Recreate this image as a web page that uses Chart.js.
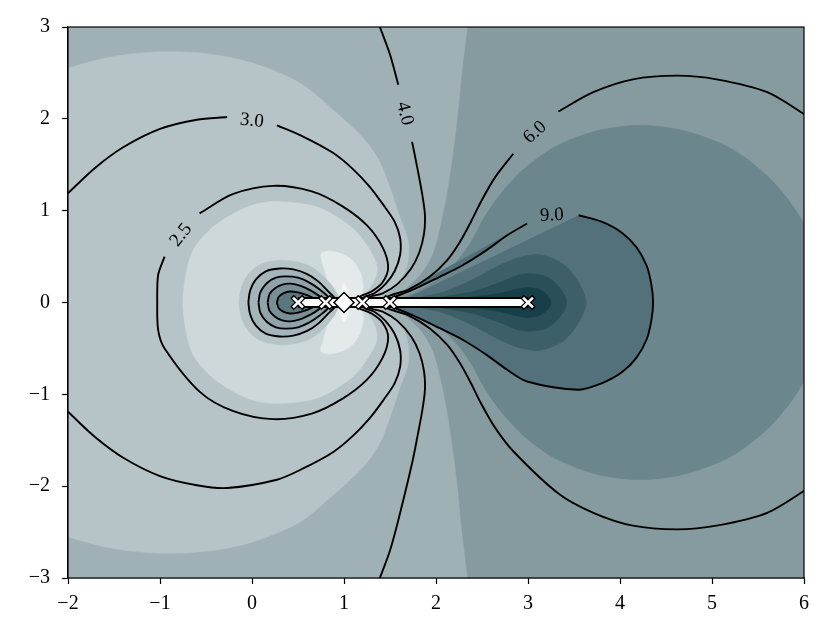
<!DOCTYPE html>
<html>
<head>
<meta charset="utf-8">
<script src="https://cdn.jsdelivr.net/npm/chart.js@4.4.1/dist/chart.umd.min.js"></script>
<style>
  html, body { margin: 0; padding: 0; background: #fff; }
  canvas { display: block; }
</style>
</head>
<body>
<canvas id="chart" width="829" height="638"></canvas>
<script>
// The picture is mirror-symmetric about y = 0, so every curve below is the
// upper half only (y >= 0); the lower half is the same list with y -> -y.
// null = gap left in the line for an inline label.

// contour lines
const line25 = [[-1.03,0],[-1.02,0.30],[-0.95,0.50],null,[-0.57,0.97],[-0.21,1.18],[0.23,1.27],[0.65,1.21],[0.98,1.05],[1.25,0.84],[1.42,0.60],[1.48,0.38],[1.42,0.22],[1.30,0.12],[1.15,0.05]];
const line30 = [[-2.0,1.19],[-1.7,1.47],[-1.4,1.69],[-1.0,1.89],[-0.6,1.99],[-0.27,2.02],null,[0.27,1.93],[0.55,1.81],[0.88,1.63],[1.10,1.45],[1.28,1.26],[1.43,1.06],[1.55,0.88],[1.61,0.70],[1.61,0.52],[1.55,0.34],[1.45,0.20],[1.33,0.10],[1.21,0.05]];
const line40 = [[1.39,3.0],[1.50,2.70],[1.59,2.37],null,[1.74,1.75],[1.80,1.45],[1.85,1.18],[1.88,0.95],[1.87,0.75],[1.82,0.55],[1.73,0.37],[1.58,0.20],[1.42,0.10],[1.26,0.05]];
const line60 = [[6.05,2.02],[5.6,2.29],[5.05,2.43],[4.62,2.47],[4.14,2.43],[3.71,2.29],[3.33,2.08],null,[2.84,1.62],[2.64,1.36],[2.49,1.10],[2.38,0.88],[2.26,0.66],[2.12,0.46],[1.93,0.28],[1.70,0.14],[1.45,0.05]];
const line90 = [[1.50,0.04],[1.75,0.14],[2.04,0.28],[2.28,0.40],[2.55,0.57],[2.77,0.73],[2.99,0.86],null,[3.55,0.95],[3.80,0.88],[4.02,0.76],[4.18,0.60],[4.29,0.40],[4.34,0.20],[4.36,0]];
const loop1 = [[-0.04,0],[-0.02,0.13],[0.04,0.25],[0.15,0.34],[0.30,0.37],[0.45,0.36],[0.60,0.31],[0.72,0.23],[0.82,0.13],[0.90,0.05],[0.93,0]];
const loop2 = [[0.07,0],[0.09,0.11],[0.16,0.21],[0.26,0.27],[0.37,0.285],[0.50,0.27],[0.62,0.22],[0.74,0.14],[0.83,0.06],[0.87,0]];
const loop3 = [[0.17,0],[0.19,0.09],[0.25,0.155],[0.33,0.195],[0.42,0.205],[0.53,0.18],[0.64,0.13],[0.73,0.07],[0.79,0]];
const loop4 = [[0.27,0],[0.29,0.06],[0.34,0.10],[0.41,0.12],[0.50,0.11],[0.60,0.08],[0.68,0.04],[0.73,0]];

// filled bands (outline of each band, upper half)
const plotBox = [[-2.5,3.5],[6.5,3.5],[6.5,-3.5],[-2.5,-3.5]];
const band3 = [[1.45,0],[1.58,0.08],[1.68,0.16],[1.85,0.33],[1.97,0.55],[2.05,0.85],[2.12,1.2],[2.18,1.6],[2.23,2.0],[2.28,2.5],[2.34,3.0],[2.38,3.4],[-2.6,3.4],[-2.6,0]];
const band2 = [[1.30,0],[1.40,0.06],[1.55,0.17],[1.68,0.38],[1.70,0.65],[1.60,0.95],[1.50,1.25],[1.38,1.55],[1.20,1.80],[0.90,2.08],[0.52,2.39],[0.0,2.61],[-0.5,2.71],[-1.0,2.73],[-1.5,2.68],[-2.0,2.55],[-2.4,2.38],[-2.6,1.5],[-2.6,0]];
const band1 = [[1.15,0],[1.22,0.08],[1.32,0.22],[1.36,0.39],[1.25,0.62],[1.07,0.83],[0.71,1.04],[0.27,1.10],[0.0,1.06],[-0.27,0.93],[-0.47,0.78],[-0.64,0.57],[-0.72,0.30],[-0.75,0]];
const band0 = [[1.15,0],[1.19,0.08],[1.21,0.17],[1.18,0.32],[1.10,0.45],[1.0,0.52],[0.85,0.56],[0.75,0.53],[0.77,0.42],[0.82,0.25],[0.86,0.10],[0.88,0]];
const spike = [[1.06,0],[1.04,0.13],[1.0,0.21],[0.97,0.13],[0.95,0]];
const band5 = [[1.5,0],[1.75,0.10],[2.0,0.24],[2.2,0.42],[2.38,0.66],[2.52,0.92],[2.7,1.18],[2.95,1.45],[3.3,1.70],[3.75,1.87],[4.22,1.93],[4.7,1.87],[5.2,1.68],[5.6,1.38],[5.9,1.02],[6.15,0.55],[6.25,0]];
const band7 = [[1.55,0],[1.8,0.05],[2.1,0.12],[2.4,0.25],[2.66,0.39],[2.9,0.49],[3.13,0.52],[3.38,0.42],[3.55,0.22],[3.63,0]];
const band8 = [[1.7,0],[2.0,0.05],[2.4,0.12],[2.7,0.22],[2.95,0.31],[3.2,0.28],[3.36,0.14],[3.42,0]];
const band9 = [[1.9,0],[2.3,0.05],[2.7,0.10],[2.95,0.16],[3.1,0.15],[3.2,0.09],[3.25,0]];
const halo = [[0.97,0],[0.90,0.14],[0.80,0.26],[0.66,0.38],[0.50,0.44],[0.30,0.46],[0.10,0.42],[-0.03,0.32],[-0.11,0.18],[-0.14,0]];

// segment on the axis and its markers
const barX = [0.5, 3.0];
const crossX = [0.5, 0.8, 1.2, 1.5, 3.0];
const diamondX = [1.0];

// inline contour labels
const labelText = ['2.5', '3.0', '4.0', '6.0', '9.0'];
const labelX = [-0.78, 0.0, 1.67, 3.07, 3.26];
const labelY = [0.74, 1.99, 2.06, 1.86, 0.96];
const labelAngle = [-52, 6, 76, -42, -3];

const xTickValues = [-2, -1, 0, 1, 2, 3, 4, 5, 6];
const yTickValues = [-3, -2, -1, 0, 1, 2, 3];

const shade = {
  base: '#869ba0', c3: '#9fb1b5', c2: '#b6c4c7', c1: '#cdd8da', c0: '#e4e9ea', white: '#f4f6f6',
  c5: '#6b878d', c6: '#53717a', c7: '#3d5f68', c8: '#2a4f58', c9: '#173f4a',
  r1: '#a4b5b9', r2: '#8fa3a8', r3: '#778f95', r4: '#5b777e'
};
const FONT = "'Liberation Serif', 'DejaVu Serif', serif";

function toPoints(list) {
  return list.map(p => p ? { x: p[0], y: p[1] } : { x: null, y: null });
}

function same(a, b) {
  return a && b && a[0] === b[0] && a[1] === b[1];
}

// upper half followed by its mirror image walked back
function mirrored(upper) {
  const lower = upper.filter(p => p).map(([x, y]) => [x, -y]).reverse();
  const all = upper.concat(lower);
  return all.filter((p, i) => !same(p, all[i - 1]));
}

// closed polygon for a filled band
function outline(upper) {
  const out = mirrored(upper);
  if (same(out[0], out[out.length - 1])) out.pop();
  return out;
}

// line path; a closed contour with a label gap is started just after the gap
function linePath(upper) {
  let path = mirrored(upper);
  const gap = path.indexOf(null);
  if (gap > 0 && same(path[0], path[path.length - 1])) {
    path = path.slice(gap + 1).concat(path.slice(1, gap));
  }
  return path;
}

const layers = [];
function area(list, color, tension) {
  layers.push({ data: toPoints(list), showLine: true, fill: 'shape', backgroundColor: color,
    borderColor: color, borderWidth: 0.5, pointRadius: 0, tension: tension });
}
function contour(upper) {
  layers.push({ data: toPoints(linePath(upper)), showLine: true, fill: false,
    borderColor: '#000', borderWidth: 1.9, pointRadius: 0, tension: 0.3 });
}

area(plotBox, shade.base, 0);
area(outline(band3), shade.c3, 0.3);
area(outline(band2), shade.c2, 0.3);
area(outline(band1), shade.c1, 0.3);
area(outline(band0), shade.c0, 0.3);
area(outline(spike), shade.white, 0.3);
area(outline(band5), shade.c5, 0.3);
area(outline(line90), shade.c6, 0.3);
area(outline(band7), shade.c7, 0.3);
area(outline(band8), shade.c8, 0.3);
area(outline(band9), shade.c9, 0.3);
area(outline(halo), shade.c2, 0.3);
area(outline(loop1), shade.r1, 0.3);
area(outline(loop2), shade.r2, 0.3);
area(outline(loop3), shade.r3, 0.3);
area(outline(loop4), shade.r4, 0.3);

[line25, line30, line40, line60, line90, loop1, loop2, loop3, loop4].forEach(contour);

const barPts = barX.map(x => ({ x: x, y: 0 }));
layers.push({ data: barPts, showLine: true, borderColor: '#000', borderWidth: 11, pointRadius: 0, borderCapStyle: 'butt' });
layers.push({ data: barPts, showLine: true, borderColor: '#fff', borderWidth: 7, pointRadius: 0, borderCapStyle: 'butt' });
layers.push({ data: crossX.map(x => ({ x: x, y: 0 })), showLine: false, pointStyle: 'crossRot',
  pointRadius: 8.5, pointBorderWidth: 5, pointBorderColor: '#000', pointBackgroundColor: '#000' });
layers.push({ data: crossX.map(x => ({ x: x, y: 0 })), showLine: false, pointStyle: 'crossRot',
  pointRadius: 7, pointBorderWidth: 2.6, pointBorderColor: '#fff', pointBackgroundColor: '#fff' });
layers.push({ data: diamondX.map(x => ({ x: x, y: 0 })), showLine: false, pointStyle: 'rectRot',
  pointRadius: 10, pointBorderWidth: 1.5, pointBorderColor: '#000', pointBackgroundColor: '#fff' });

// first layer is painted first
layers.forEach((d, i) => { d.order = layers.length - i; });

const frame = {
  id: 'frame',
  afterDatasetsDraw(chart) {
    const { ctx, chartArea: a } = chart;
    ctx.save();
    ctx.strokeStyle = '#000';
    ctx.lineWidth = 1.2;
    ctx.strokeRect(a.left, a.top, a.right - a.left, a.bottom - a.top);
    ctx.restore();
  }
};

const inlineLabels = {
  id: 'inlineLabels',
  afterDatasetsDraw(chart) {
    const { ctx, scales: { x, y } } = chart;
    ctx.save();
    ctx.font = '19px ' + FONT;
    ctx.fillStyle = '#000';
    ctx.textAlign = 'center';
    ctx.textBaseline = 'middle';
    labelText.forEach((t, i) => {
      ctx.save();
      ctx.translate(x.getPixelForValue(labelX[i]), y.getPixelForValue(labelY[i]));
      ctx.rotate(labelAngle[i] * Math.PI / 180);
      ctx.fillText(t, 0, 1);
      ctx.restore();
    });
    ctx.restore();
  }
};

const fmt = v => (v < 0 ? '\u2212' + (-v) : String(v));

new Chart(document.getElementById('chart'), {
  type: 'scatter',
  data: { datasets: layers },
  options: {
    responsive: false,
    animation: false,
    devicePixelRatio: 1,
    events: [],
    layout: { padding: { top: 27, right: 25, left: 0, bottom: 0 } },
    elements: { line: { capBezierPoints: false } },
    plugins: { legend: { display: false }, tooltip: { enabled: false } },
    scales: {
      x: {
        type: 'linear', min: -2, max: 6,
        afterBuildTicks: s => { s.ticks = xTickValues.map(v => ({ value: v })); },
        afterFit: s => { s.height = 60; },
        ticks: { callback: fmt, color: '#000', font: { family: FONT, size: 20 }, padding: 8, maxRotation: 0, autoSkip: false },
        grid: { drawOnChartArea: false, tickLength: 6, tickColor: '#000', tickWidth: 1.2 },
        border: { color: '#000', width: 1.2 }
      },
      y: {
        type: 'linear', min: -3, max: 3,
        afterBuildTicks: s => { s.ticks = yTickValues.map(v => ({ value: v })); },
        afterFit: s => { s.width = 68; },
        ticks: { callback: fmt, color: '#000', font: { family: FONT, size: 20 }, padding: 12, autoSkip: false },
        grid: { drawOnChartArea: false, tickLength: 6, tickColor: '#000', tickWidth: 1.2 },
        border: { color: '#000', width: 1.2 }
      }
    }
  },
  plugins: [frame, inlineLabels]
});
</script>
</body>
</html>
